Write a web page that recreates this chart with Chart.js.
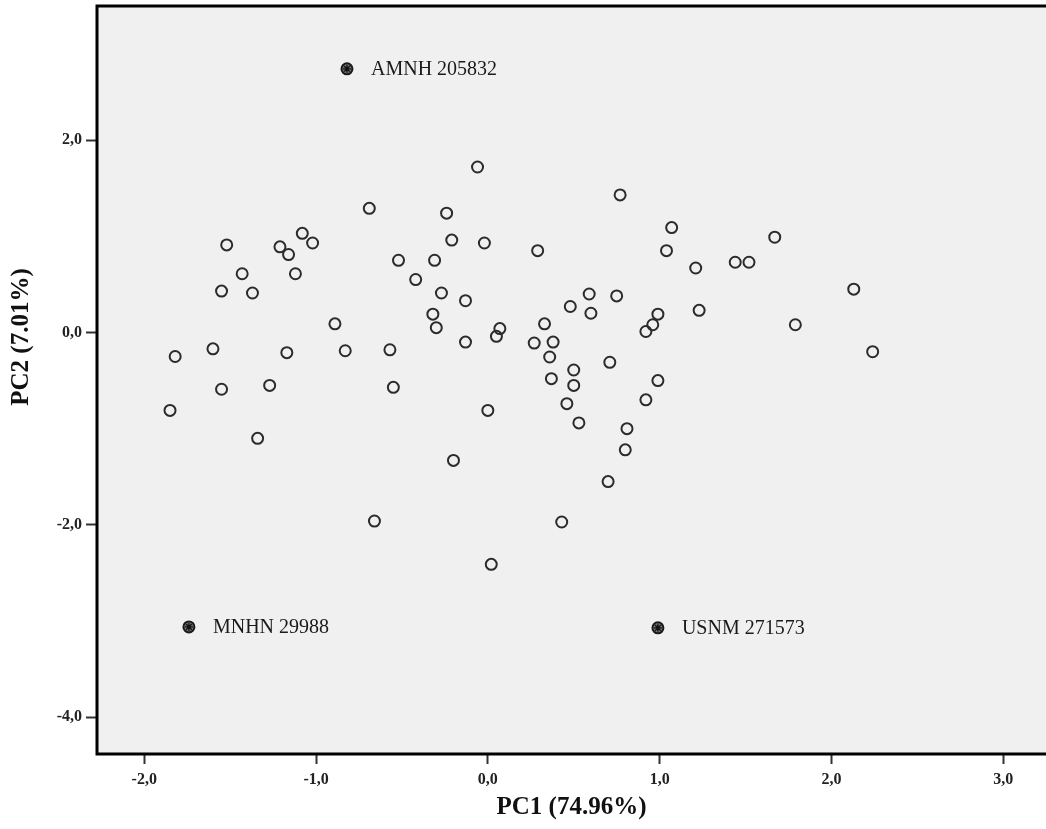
<!DOCTYPE html>
<html>
<head>
<meta charset="utf-8">
<script src="https://cdn.jsdelivr.net/npm/chart.js@4.4.1/dist/chart.umd.min.js"></script>
<style>
  body { margin: 0; background: #fff; }
  #pca { display: block; }
</style>
</head>
<body>
<canvas id="pca" width="1046" height="829"></canvas>
<script>
// PC scores
const pc1 = [-0.06, 0.77, -0.69, -0.24, 1.07, -1.08, 1.67, -0.21, -0.02, -1.02,
  -1.52, -1.21, -1.16, 0.29, 1.04, -0.52, -0.31, 1.44, 1.52, 1.21,
  -1.43, -1.12, -0.42, 2.13, -1.55, -1.37, -0.27, 0.59, 0.75, -0.13,
  0.48, 1.23, 0.60, 0.99, -0.32, -0.89, 0.33, 1.79, 0.96, -0.30,
  0.07, 0.92, 0.05, -0.83, -1.82, -1.60, -1.17, -0.57, -0.13, 0.27,
  0.38, 0.36, 2.24, 0.71, 0.50, -1.27, -1.55, -0.55, 0.50, 0.37,
  0.99, -1.85, 0.46, 0.00, 0.92, 0.53, 0.81, -1.34, 0.80, -0.20,
  0.70, -0.66, 0.43, 0.02];
const pc2 = [1.72, 1.43, 1.29, 1.24, 1.09, 1.03, 0.99, 0.96, 0.93, 0.93,
  0.91, 0.89, 0.81, 0.85, 0.85, 0.75, 0.75, 0.73, 0.73, 0.67,
  0.61, 0.61, 0.55, 0.45, 0.43, 0.41, 0.41, 0.40, 0.38, 0.33,
  0.27, 0.23, 0.20, 0.19, 0.19, 0.09, 0.09, 0.08, 0.08, 0.05,
  0.04, 0.01, -0.04, -0.19, -0.25, -0.17, -0.21, -0.18, -0.10, -0.11,
  -0.10, -0.255, -0.20, -0.31, -0.39, -0.55, -0.59, -0.57, -0.55, -0.48,
  -0.50, -0.81, -0.74, -0.81, -0.70, -0.94, -1.00, -1.10, -1.22, -1.33,
  -1.55, -1.96, -1.97, -2.41];

// labelled specimens
const specimenNames = ['AMNH 205832', 'MNHN 29988', 'USNM 271573'];
const specimenPC1 = [-0.82, -1.74, 0.99];
const specimenPC2 = [2.74, -3.06, -3.07];

const xTickValues = [-2, -1, 0, 1, 2, 3];
const yTickValues = [-4, -2, 0, 2];

const serif = '"Liberation Serif", "DejaVu Serif", serif';

const scores = pc1.map((v, i) => ({ x: v, y: pc2[i] }));
const specimens = specimenPC1.map((v, i) => ({ x: v, y: specimenPC2[i] }));

function fmt(v) {
  return v.toFixed(1).replace('.', ',');
}

const framePlugin = {
  id: 'frame',
  beforeDatasetsDraw(chart) {
    const { ctx, chartArea: a } = chart;
    ctx.save();
    ctx.fillStyle = '#f0f0f0';
    ctx.fillRect(a.left, a.top, a.right - a.left, a.bottom - a.top);
    ctx.restore();
  },
  afterDraw(chart) {
    const { ctx, chartArea: a } = chart;
    ctx.save();
    ctx.strokeStyle = '#000';
    ctx.lineWidth = 3;
    ctx.beginPath();
    ctx.moveTo(a.right, a.top);
    ctx.lineTo(a.left, a.top);
    ctx.lineTo(a.left, a.bottom);
    ctx.lineTo(a.right, a.bottom);
    ctx.stroke();

    // specimen labels
    const xs = chart.scales.x, ys = chart.scales.y;
    ctx.fillStyle = '#1a1a1a';
    ctx.font = '20px ' + serif;
    ctx.textBaseline = 'middle';
    ctx.textAlign = 'left';
    specimenNames.forEach((name, i) => {
      ctx.fillText(name, xs.getPixelForValue(specimenPC1[i]) + 24, ys.getPixelForValue(specimenPC2[i]) + 1);
    });

    // axis titles
    ctx.fillStyle = '#111';
    ctx.font = 'bold 25px ' + serif;
    ctx.textAlign = 'center';
    ctx.fillText('PC1 (74.96%)', (a.left + a.right) / 2, 808);
    ctx.translate(22, 337);
    ctx.rotate(-Math.PI / 2);
    ctx.fillText('PC2 (7.01%)', 0, 0);
    ctx.restore();
  }
};

new Chart(document.getElementById('pca'), {
  type: 'scatter',
  data: {
    datasets: [{
      data: specimens,
      pointStyle: 'star',
      pointRadius: 4,
      borderColor: '#111',
      borderWidth: 1.3,
      order: 0
    }, {
      data: specimens,
      pointStyle: 'circle',
      pointRadius: 5.5,
      backgroundColor: '#777',
      borderColor: '#1a1a1a',
      borderWidth: 2,
      order: 1
    }, {
      data: scores,
      pointStyle: 'circle',
      pointRadius: 5.5,
      backgroundColor: 'rgba(0,0,0,0)',
      borderColor: '#2b2b2b',
      borderWidth: 2,
      order: 2
    }]
  },
  options: {
    responsive: false,
    animation: false,
    layout: { autoPadding: false, padding: { top: 6, left: 0, right: 0, bottom: 0 } },
    plugins: {
      legend: { display: false },
      tooltip: { enabled: false }
    },
    scales: {
      x: {
        type: 'linear',
        min: -2.275,
        max: 3.249,
        afterFit(scale) { scale.height = 75; scale.paddingLeft = 0; scale.paddingRight = 0; },
        afterBuildTicks(axis) { axis.ticks = xTickValues.map(v => ({ value: v })); },
        grid: {
          drawOnChartArea: false,
          drawTicks: true,
          tickLength: 10,
          tickWidth: 2,
          tickColor: '#333'
        },
        border: { display: false },
        ticks: {
          padding: 6,
          color: '#222',
          font: { family: serif, size: 16, weight: 'bold' },
          callback: v => fmt(v)
        }
      },
      y: {
        type: 'linear',
        min: -4.381,
        max: 3.393,
        afterFit(scale) { scale.width = 97; scale.paddingTop = 0; scale.paddingBottom = 0; },
        afterBuildTicks(axis) { axis.ticks = yTickValues.map(v => ({ value: v })); },
        grid: {
          drawOnChartArea: false,
          drawTicks: true,
          tickLength: 11,
          tickWidth: 2,
          tickColor: '#333'
        },
        border: { display: false },
        ticks: {
          padding: 4,
          color: '#222',
          font: { family: serif, size: 16, weight: 'bold' },
          callback: v => fmt(v)
        }
      }
    }
  },
  plugins: [framePlugin]
});
</script>
</body>
</html>
